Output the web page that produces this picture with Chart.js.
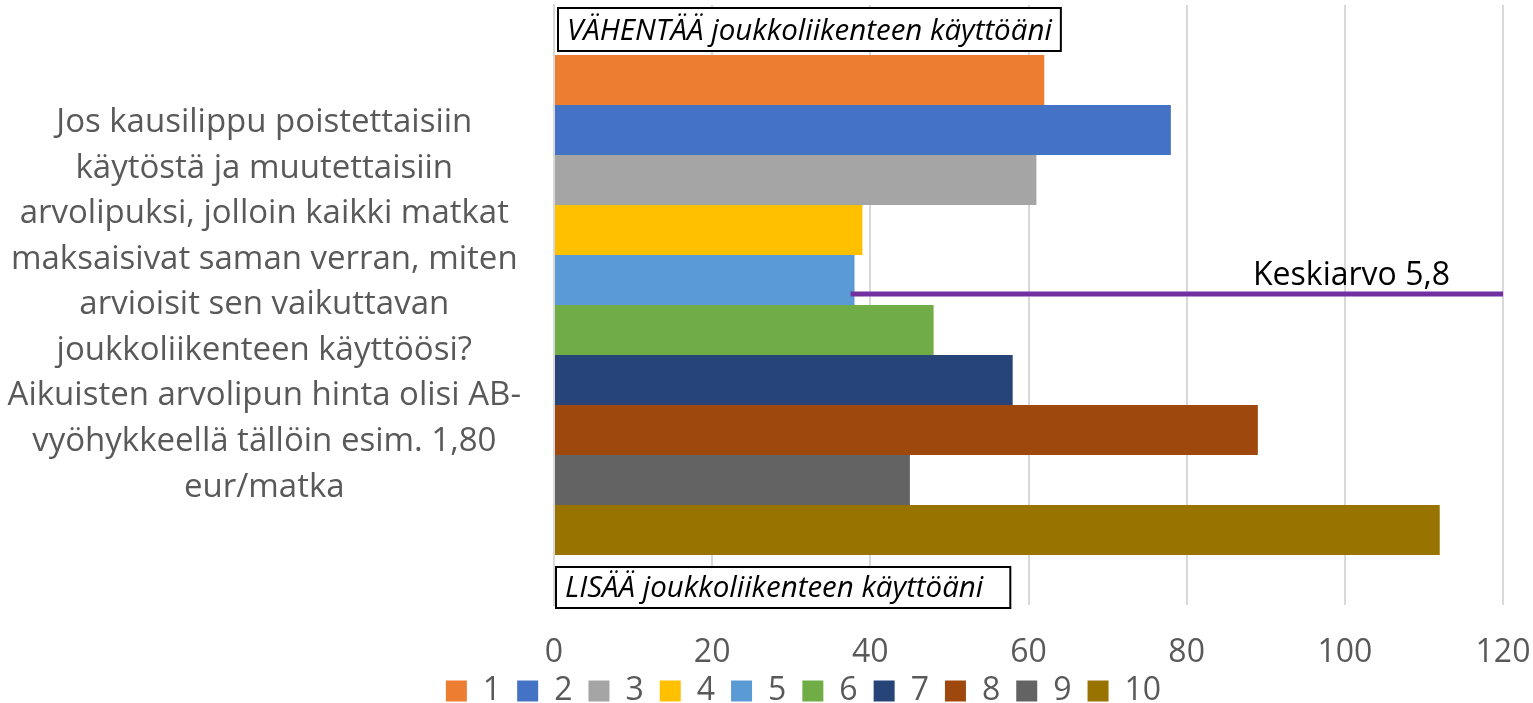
<!DOCTYPE html>
<html>
<head>
<meta charset="utf-8">
<script src="https://cdn.jsdelivr.net/npm/chart.js@4/dist/chart.umd.min.js"></script>
<style>
  html, body { margin: 0; padding: 0; background: #fff; }
  #wrap { width: 1533px; height: 703px; position: relative; }
</style>
</head>
<body>
<div id="wrap"><canvas id="myBarChart"></canvas></div>
<script>
// category (one question, split into lines)
const categories = [[
  'Jos kausilippu poistettaisiin',
  'käytöstä ja muutettaisiin',
  'arvolipuksi, jolloin kaikki matkat',
  'maksaisivat saman verran, miten',
  'arvioisit sen vaikuttavan',
  'joukkoliikenteen käyttöösi?',
  'Aikuisten arvolipun hinta olisi AB-',
  'vyöhykkeellä tällöin esim. 1,80',
  'eur/matka'
]];
const seriesLabels = ['1', '2', '3', '4', '5', '6', '7', '8', '9', '10'];
const seriesValues = [62, 78, 61, 39, 38, 48, 58, 89, 45, 112];
const seriesColors = ['#ED7D31', '#4472C4', '#A5A5A5', '#FFC000', '#5B9BD5',
                      '#70AD47', '#264478', '#9E480E', '#636363', '#997300'];
const xTicks = [0, 20, 40, 60, 80, 100, 120];
const averageLabel = 'Keskiarvo 5,8';
const averageRange = [37.5, 120];
const topNote = 'VÄHENTÄÄ joukkoliikenteen käyttöäni';
const bottomNote = 'LISÄÄ joukkoliikenteen käyttöäni';

const FONT = "'Open Sans', 'Noto Sans', sans-serif";
const GREY = '#595959';

// notes, average line and legend shift
const extras = {
  id: 'extras',
  afterLayout(chart) {
    // let x tick labels spill below the axis box (labels are clipped to it)
    chart.scales.x.bottom = chart.height;
    chart.legend.left += 52;
    chart.legend.right += 52;
    chart.legend.top += 14;
    chart.legend.bottom += 14;
  },
  afterDraw(chart) {
    const ctx = chart.ctx;
    const area = chart.chartArea;
    const x = chart.scales.x;
    const m5 = chart.getDatasetMeta(4).data[0];
    const m6 = chart.getDatasetMeta(5).data[0];
    ctx.save();

    // average line
    const ly = m5.y + (m6.y - m5.y) * 0.28;
    ctx.strokeStyle = '#7030A0';
    ctx.lineWidth = 5;
    ctx.beginPath();
    ctx.moveTo(x.getPixelForValue(averageRange[0]), ly);
    ctx.lineTo(x.getPixelForValue(averageRange[1]), ly);
    ctx.stroke();
    ctx.fillStyle = '#000';
    ctx.font = '32px ' + FONT;
    ctx.textAlign = 'right';
    ctx.textBaseline = 'alphabetic';
    ctx.fillText(averageLabel, x.getPixelForValue(averageRange[1]) - 53, ly - 9);

    // text boxes
    function note(text, left, top, h, extra) {
      ctx.font = 'italic 29.5px ' + FONT;
      const w = ctx.measureText(text).width;
      ctx.fillStyle = '#fff';
      ctx.fillRect(left, top, w + 18 + extra, h);
      ctx.strokeStyle = '#000';
      ctx.lineWidth = 2;
      ctx.strokeRect(left, top, w + 18 + extra, h);
      ctx.fillStyle = '#000';
      ctx.textAlign = 'left';
      ctx.fillText(text, left + 9, top + h - 11);
    }
    note(topNote, area.left + 4, area.top + 3, 43, 0);
    const last = chart.getDatasetMeta(9).data[0];
    note(bottomNote, area.left + 2, last.y + last.height / 2 + 12, 41, 18);
    ctx.restore();
  }
};

new Chart(document.getElementById('myBarChart'), {
  type: 'bar',
  data: {
    labels: categories,
    datasets: seriesLabels.map((lab, i) => ({
      label: lab,
      data: [seriesValues[i]],
      backgroundColor: seriesColors[i],
      borderWidth: 0,
      categoryPercentage: 0.8333,
      barPercentage: 1
    }))
  },
  options: {
    indexAxis: 'y',
    responsive: true,
    maintainAspectRatio: false,
    animation: false,
    layout: { padding: { left: 0, right: 30, top: 5, bottom: 0 } },
    scales: {
      x: {
        min: 0,
        max: 120,
        afterBuildTicks: (s) => { s.ticks = xTicks.map(v => ({ value: v })); },
        afterFit: (s) => {
          s.height = 40;
          s.paddingLeft = 0;
          s.paddingRight = 0;
        },
        grid: { color: '#D9D9D9', lineWidth: 2, drawTicks: false },
        border: { display: false },
        ticks: { color: GREY, font: { family: FONT, size: 32 }, padding: 29 }
      },
      y: {
        afterFit: (s) => {
          s.width = 554;
          s.paddingTop = 0;
          s.paddingBottom = 0;
        },
        grid: { display: false, drawTicks: false },
        border: { display: true, color: '#D9D9D9', width: 2 },
        ticks: {
          color: GREY,
          crossAlign: 'center',
          padding: 33,
          font: { family: FONT, size: 33, lineHeight: 1.38 }
        }
      }
    },
    plugins: {
      legend: {
        position: 'bottom',
        labels: {
          boxWidth: 21,
          boxHeight: 21,
          padding: 16,
          color: GREY,
          font: { family: FONT, size: 32 }
        }
      },
      tooltip: { enabled: false }
    }
  },
  plugins: [extras]
});
</script>
</body>
</html>
